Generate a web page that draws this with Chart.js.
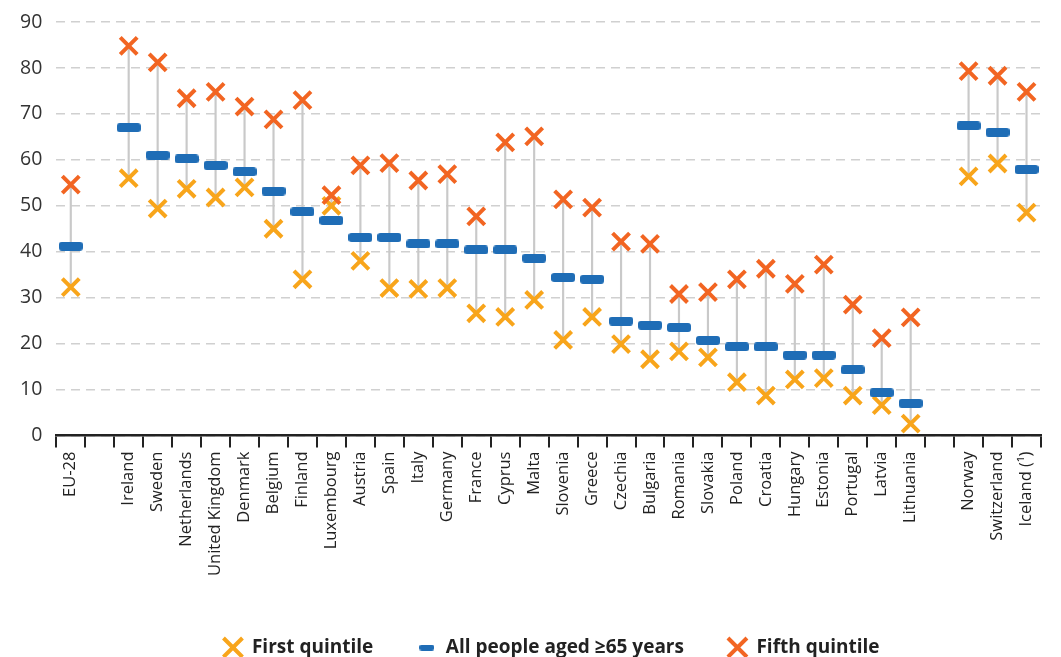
<!DOCTYPE html>
<html lang="en">
<head>
  <meta charset="UTF-8" />
  <title>Quintiles, people aged 65+</title>
  <script src="https://cdn.jsdelivr.net/npm/chart.js"></script>
  <style>
    html, body { margin: 0; padding: 0; background: #fff; }
    #wrap { width: 1061px; height: 657px; }
  </style>
</head>
<body>
  <div id="wrap"><canvas id="chart"></canvas></div>

  <script>
    // categories (blank entries are the gaps between groups)
    const countries = ["EU-28", "", "Ireland", "Sweden", "Netherlands", "United Kingdom", "Denmark",
      "Belgium", "Finland", "Luxembourg", "Austria", "Spain", "Italy", "Germany", "France", "Cyprus",
      "Malta", "Slovenia", "Greece", "Czechia", "Bulgaria", "Romania", "Slovakia", "Poland", "Croatia",
      "Hungary", "Estonia", "Portugal", "Latvia", "Lithuania", "", "Norway", "Switzerland", "Iceland (\u00b9)"];

    const firstQuintile = [32.3, null, 56.0, 49.4, 53.7, 51.8, 54.0, 45.0, 34.0, 50.0, 38.0, 32.1, 31.9, 32.1,
      26.6, 25.8, 29.5, 20.8, 25.8, 19.9, 16.6, 18.3, 17.0, 11.6, 8.7, 12.2, 12.5, 8.7, 6.6, 2.6,
      null, 56.4, 59.2, 48.5];

    const allPeople = [41.2, null, 67.0, 61.0, 60.2, 58.8, 57.4, 53.2, 48.7, 46.8, 43.1, 43.1, 41.7, 41.7,
      40.4, 40.4, 38.6, 34.4, 34.0, 24.9, 24.0, 23.5, 20.7, 19.3, 19.3, 17.5, 17.5, 14.3, 9.3, 7.0,
      null, 67.4, 66.0, 57.9];

    const fifthQuintile = [54.6, null, 84.8, 81.2, 73.4, 74.8, 71.6, 68.8, 73.0, 52.3, 58.8, 59.3, 55.5, 56.9,
      47.7, 63.8, 65.1, 51.4, 49.6, 42.2, 41.7, 30.8, 31.2, 34.0, 36.3, 33.0, 37.2, 28.5, 21.2, 25.7,
      null, 79.3, 78.3, 74.8];

    const yTicks = [0, 10, 20, 30, 40, 50, 60, 70, 80, 90];

    // vertical range line between the two quintiles
    const ranges = countries.map((c, i) =>
      firstQuintile[i] == null ? null : [firstQuintile[i], fifthQuintile[i]]);

    // rounded blue dash used as point style
    function dash(w, h, r) {
      const c = document.createElement("canvas");
      c.width = w; c.height = h;
      const g = c.getContext("2d");
      g.fillStyle = "#1f6db6";
      g.beginPath();
      g.roundRect(0, 0, w, h, r);
      g.fill();
      return c;
    }
    const bigDash = dash(24, 9, 3);
    const smallDash = dash(15, 6, 2.5);

    // nudge the legend a bit to the right, like the original
    const legendShift = {
      id: "legendShift",
      afterLayout(chart) {
        chart.legend.left += 28;
        chart.legend.right += 28;
      }
    };

    const ctx = document.getElementById("chart").getContext("2d");
    new Chart(ctx, {
      type: "bar",
      data: {
        labels: countries,
        datasets: [
          {
            label: "range",
            data: ranges,
            backgroundColor: "#c9c9c9",
            barThickness: 1.5,
            order: 10
          },
          {
            type: "line",
            label: "First quintile",
            data: firstQuintile,
            showLine: false,
            pointStyle: "crossRot",
            pointRadius: 12,
            pointBorderWidth: 4,
            borderWidth: 4,
            borderColor: "#f8a51b",
            backgroundColor: "#f8a51b",
            order: 3
          },
          {
            type: "line",
            label: "All people aged \u226565 years",
            data: allPeople,
            showLine: false,
            pointStyle: bigDash,
            borderColor: "#1f6db6",
            backgroundColor: "#1f6db6",
            order: 1
          },
          {
            type: "line",
            label: "Fifth quintile",
            data: fifthQuintile,
            showLine: false,
            pointStyle: "crossRot",
            pointRadius: 12,
            pointBorderWidth: 4,
            borderWidth: 4,
            borderColor: "#f26522",
            backgroundColor: "#f26522",
            order: 2
          }
        ]
      },
      plugins: [legendShift],
      options: {
        responsive: true,
        maintainAspectRatio: false,
        animation: false,
        layout: { padding: { left: 6, right: 20, top: 22, bottom: -10 } },
        plugins: {
          tooltip: { enabled: false },
          legend: {
            position: "bottom",
            labels: {
              usePointStyle: true,
              boxWidth: 22,
              boxHeight: 22,
              color: "#222",
              font: { family: "'Open Sans', sans-serif", size: 19, weight: "bold" },
              padding: 44,
              filter: item => item.datasetIndex !== 0,
              sort: (a, b) => a.datasetIndex - b.datasetIndex,
              generateLabels: chart => {
                const items = Chart.defaults.plugins.legend.labels.generateLabels(chart);
                items.forEach(it => {
                  if (it.datasetIndex === 2) it.pointStyle = smallDash;
                });
                return items;
              }
            }
          }
        },
        scales: {
          x: {
            offset: true,
            afterFit: s => { s.height += 14; s.paddingTop = 0; },
            grid: {
              offset: true,
              drawOnChartArea: false,
              color: "#222",
              lineWidth: 2,
              tickLength: 12
            },
            border: { color: "#222", width: 2.5 },
            ticks: {
              autoSkip: false,
              minRotation: 90,
              maxRotation: 90,
              color: "#222",
              padding: 4,
              font: { family: "'Open Sans', sans-serif", size: 16.5 }
            }
          },
          y: {
            min: 0,
            max: 90,
            afterBuildTicks: axis => { axis.ticks = yTicks.map(v => ({ value: v })); },
            afterFit: s => { s.paddingTop = 0; },
            border: { display: false, dash: [9, 6] },
            grid: {
              color: "#d0d0d0",
              lineWidth: 1.5,
              drawTicks: false
            },
            ticks: {
              color: "#333",
              padding: 14,
              font: { family: "'Open Sans', sans-serif", size: 19.5 }
            }
          }
        }
      }
    });
  </script>
</body>
</html>
